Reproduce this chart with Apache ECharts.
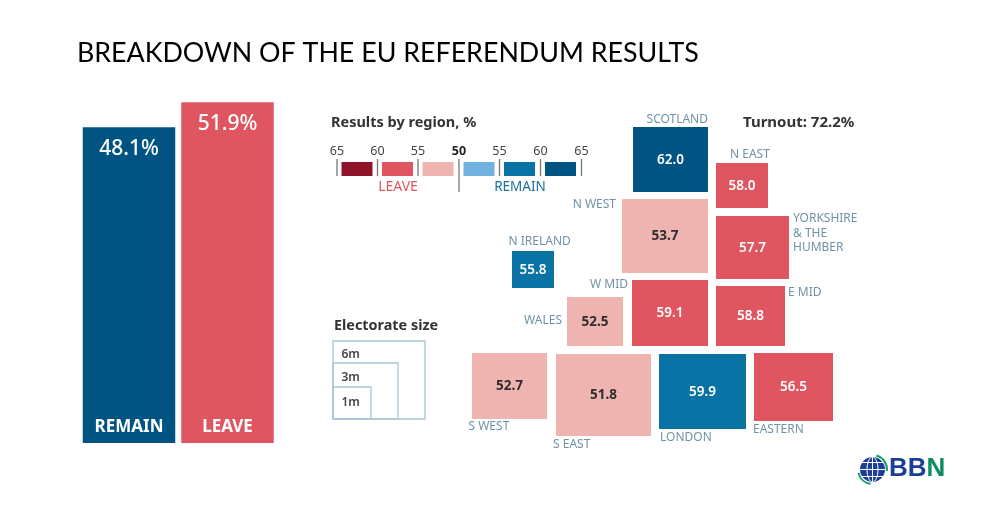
<!DOCTYPE html>
<html>
<head>
<meta charset="utf-8">
<style>html,body{margin:0;padding:0;background:#fff}#c{width:1000px;height:518px}</style>
<script src="https://cdn.jsdelivr.net/npm/echarts@6/dist/echarts.min.js"></script>
</head>
<body>
<div id="c"></div>
<script>
// ---- data ----
const titleText = 'BREAKDOWN OF THE EU REFERENDUM RESULTS';
const overallNames = ['REMAIN', 'LEAVE'];
const overallValues = [48.1, 51.9];
const regionNames = ['SCOTLAND','N EAST','N WEST','YORKSHIRE\n& THE\nHUMBER','N IRELAND','W MID','E MID','WALES','S WEST','S EAST','LONDON','EASTERN'];
const regionValues = [62.0, 58.0, 53.7, 57.7, 55.8, 59.1, 58.8, 52.5, 52.7, 51.8, 59.9, 56.5];
const regionSides = ['remain','leave','leave','leave','remain','leave','leave','leave','leave','leave','remain','leave'];
const legendTicks = ['65','60','55','50','55','60','65'];
const electorateLabels = ['6m','3m','1m'];
const turnoutText = 'Turnout: 72.2%';

// ---- styling / layout ----
const FONT = '"Noto Sans", sans-serif';
const palette = {
  leave:  ['#efb4af', '#df5660', '#8f1429'],
  remain: ['#70b1df', '#0a73a6', '#015482']
};
const LABEL = '#6f93a6';
const DARK = '#2e2e2e';
// [x0, y0, x1, y1, labelX, labelY, labelAlign] per region in chart-space units
const tileLayout = [
  [633,127,708,192, 708,119.5,'right'],
  [716,163,768,208, 730,155,'left'],
  [622,199,708,273, 616,204.5,'right'],
  [716,216,789,279, 793,233.5,'left'],
  [512,251,554,288, 508.5,241.5,'left'],
  [632,280,708,346, 628,284.5,'right'],
  [716,286,785,346, 788,292.5,'left'],
  [567,297,623,346, 562,320.5,'right'],
  [472,353,547,419, 468.5,427,'left'],
  [556,354,651,436, 553,445,'left'],
  [659,354,746,429, 660,437.5,'left'],
  [754,353,833,421, 753,429.5,'left']
];
function band(v){ return v < 55 ? 0 : v < 60 ? 1 : 2; }

const tileData = regionNames.map((n,i)=>({
  name:n,
  value:[tileLayout[i][0],tileLayout[i][1],tileLayout[i][2],tileLayout[i][3],regionValues[i],i]
}));

function renderTile(params, api){
  const i = api.value(5), L = tileLayout[i], v = api.value(4);
  const a = api.coord([L[0],L[1]]), b = api.coord([L[2],L[3]]);
  const lab = api.coord([L[4],L[5]]);
  const b_ = band(v);
  return {type:'group',children:[
    {type:'rect',shape:{x:a[0],y:a[1],width:b[0]-a[0],height:b[1]-a[1]},
     style:{fill:palette[regionSides[i]][b_]}},
    {type:'text',x:(a[0]+b[0])/2,y:(a[1]+b[1])/2+0.5,
     style:{text:v.toFixed(1),align:'center',verticalAlign:'middle',
       font:(b_===0?'700':'600')+' 13.5px '+FONT,fill:b_===0?DARK:'#fff'}},
    {type:'text',x:lab[0],y:lab[1],
     style:{text:regionNames[i],align:L[6],verticalAlign:'middle',lineHeight:14.5,
       font:'400 12px '+FONT,fill:LABEL}}
  ]};
}

// annotations: title, legend key, electorate key, logo
const g = [];
const txt=(x,y,text,font,fill,align)=>g.push({type:'text',x,y,style:{text,font,fill,align:align||'left',verticalAlign:'middle'}});
txt(77,53,titleText,'400 26.8px Lato, sans-serif','#000');
txt(331,123,'Results by region, %','700 14.5px '+FONT,'#333');
txt(743,123,turnoutText,'700 15px '+FONT,'#333');
txt(334,326,'Electorate size','700 14.4px '+FONT,'#333');

const tickX=[337,377.5,418,459,499.5,540.5,581.5];
legendTicks.forEach((t,i)=>{
  const mid=i===3;
  txt(tickX[i],151.5,t,(mid?'700':'400')+' 12.5px '+FONT,mid?'#222':'#444','center');
  g.push({type:'line',shape:{x1:tickX[i],y1:159,x2:tickX[i],y2:mid?192:176},style:{stroke:'#777',lineWidth:1.3}});
});
const swatchColors=[palette.leave[2],palette.leave[1],palette.leave[0],palette.remain[0],palette.remain[1],palette.remain[2]];
swatchColors.forEach((c,i)=>{
  g.push({type:'rect',shape:{x:tickX[i]+4.5,y:162,width:31,height:14},style:{fill:c}});
});
txt(398,187.5,'LEAVE','400 14px '+FONT,'#df5660','center');
txt(520,187.5,'REMAIN','400 13.5px '+FONT,'#1b6f9f','center');

[[333,341,92,78],[333,363,65,56],[333,387,38,32]].forEach(s=>{
  g.push({type:'rect',shape:{x:s[0],y:s[1],width:s[2],height:s[3]},style:{fill:'none',stroke:'#a9c7d4',lineWidth:1.3}});
});
electorateLabels.forEach((t,i)=>txt(341.5,[354.5,378,402.5][i],t,'600 12px '+FONT,'#444'));

// logo
g.push({type:'circle',shape:{cx:872.5,cy:469.5,r:12.5},style:{fill:'#1c3f94'}});
g.push({type:'ellipse',shape:{cx:872.5,cy:469.5,rx:5.5,ry:12.5},style:{fill:'none',stroke:'#fff',lineWidth:1}});
g.push({type:'line',shape:{x1:872.5,y1:457,x2:872.5,y2:482},style:{stroke:'#fff',lineWidth:1}});
[462.5,469.5,476.5].forEach(y=>g.push({type:'line',shape:{x1:860,y1:y,x2:885,y2:y},style:{stroke:'#fff',lineWidth:1}}));
g.push({type:'arc',shape:{cx:872.5,cy:469.5,r:14.5,startAngle:-1.3,endAngle:0.1},style:{fill:'none',stroke:'#1a9a72',lineWidth:2}});
g.push({type:'arc',shape:{cx:872.5,cy:469.5,r:14.5,startAngle:1.7,endAngle:2.9},style:{fill:'none',stroke:'#1a9a72',lineWidth:2}});
g.push({type:'text',x:889,y:469,style:{
  text:'{a|BB}{b|N}',verticalAlign:'middle',align:'left',
  rich:{a:{font:'700 26px "Liberation Sans", sans-serif',fill:'#1c3f94'},b:{font:'700 26px "Liberation Sans", sans-serif',fill:'#0c8c63'}}
}});

const option = {
  animation:false,
  backgroundColor:'#fff',
  graphic:{elements:g},
  grid:[
    {left:79.75,width:197,top:101.6,height:341.4,containLabel:false},
    {left:0,top:0,width:1000,height:518}
  ],
  xAxis:[
    {gridIndex:0,type:'category',data:overallNames,z:5,
     axisLine:{show:false},axisTick:{show:false},
     axisLabel:{inside:true,margin:7.5,color:'#fff',fontFamily:'"Noto Sans"',fontWeight:700,fontSize:17}},
    {gridIndex:1,type:'value',min:0,max:1000,show:false}
  ],
  yAxis:[
    {gridIndex:0,type:'value',min:0,max:52,show:false,splitLine:{show:false}},
    {gridIndex:1,type:'value',min:0,max:518,inverse:true,show:false,splitLine:{show:false}}
  ],
  series:[
    {type:'bar',xAxisIndex:0,yAxisIndex:0,barWidth:92.5,
     data:overallValues.map((v,i)=>({value:v,itemStyle:{color:i===0?palette.remain[2]:palette.leave[1]}})),
     label:{show:true,position:'insideTop',distance:11.5,color:'#fff',fontFamily:'"Noto Sans"',fontWeight:500,fontSize:21,
       formatter:p=>p.value.toFixed(1)+'%'}},
    {type:'custom',xAxisIndex:1,yAxisIndex:1,coordinateSystem:'cartesian2d',renderItem:renderTile,data:tileData,clip:false,
     encode:{x:[0,2],y:[1,3]}}
  ]
};
const chart = echarts.init(document.getElementById('c'));
chart.setOption(option);
</script>
</body>
</html>
